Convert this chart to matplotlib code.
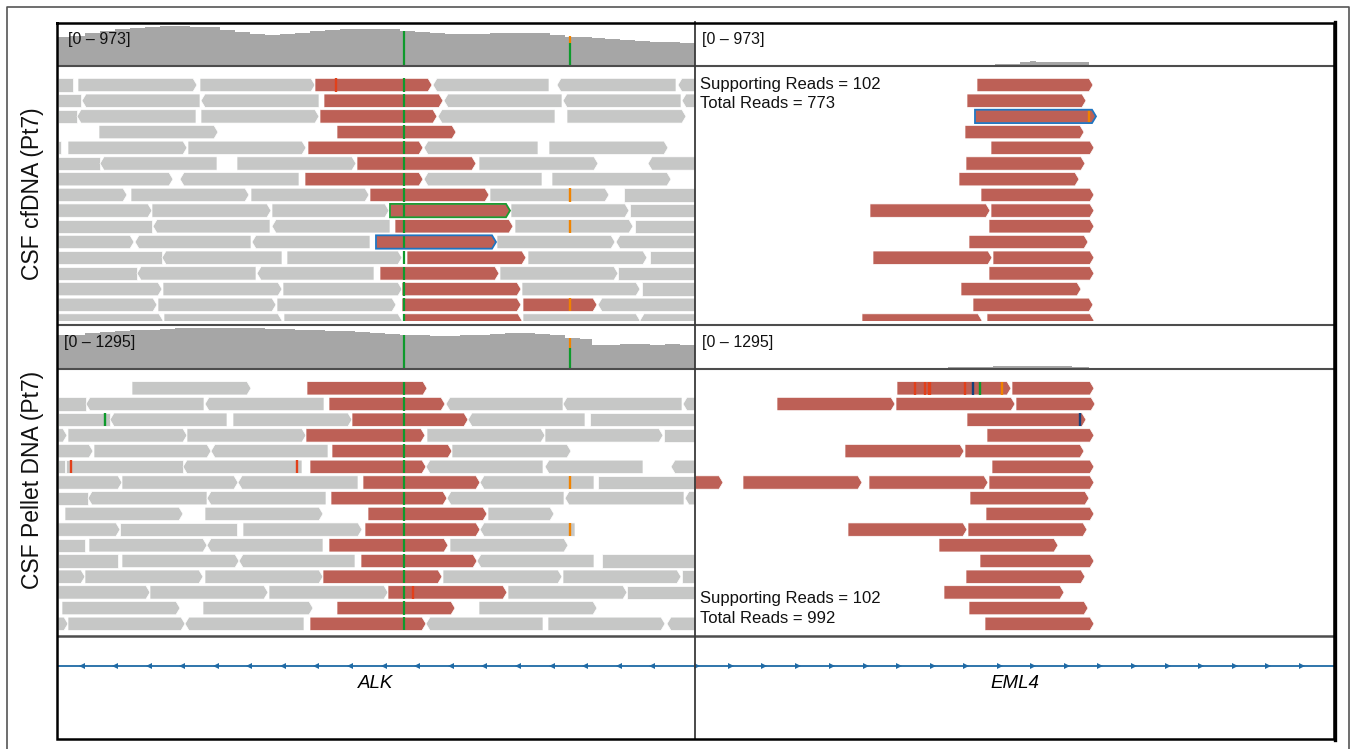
import matplotlib
matplotlib.use("Agg")
import matplotlib.pyplot as plt
from matplotlib.patches import Polygon
import numpy as np

# ---------------------------------------------------------------- data
# read tuples: (start, end, strand, kind)  kind: 'g' = normal read, 'r' = split (fusion-supporting) read
# positions are view coordinates (ALK window 57-695, EML4 window 695-1335)
alk_cfdna_reads = [
    [(58, 73, '|', 'g'), (78, 197, '>', 'g'), (200, 315, '>', 'g'), (315, 432, '>', 'r'), (433, 549, '<', 'g'), (557, 676, '<', 'g'), (678, 700, '<', 'g')],
    [(58, 81, '|', 'g'), (82, 200, '<', 'g'), (201, 319, '<', 'g'), (324, 443, '>', 'r'), (444, 562, '<', 'g'), (563, 681, '<', 'g'), (682, 700, '<', 'g')],
    [(58, 77, '|', 'g'), (77, 196, '<', 'g'), (201, 319, '>', 'g'), (320, 437, '>', 'r'), (438, 555, '<', 'g'), (567, 686, '>', 'g')],
    [(99, 218, '>', 'g'), (337, 456, '>', 'r')],
    [(58, 61, '|', 'g'), (68, 187, '>', 'g'), (188, 306, '>', 'g'), (308, 423, '>', 'r'), (424, 538, '<', 'g'), (549, 668, '>', 'g')],
    [(58, 100, '|', 'g'), (100, 217, '<', 'g'), (237, 356, '>', 'g'), (357, 476, '>', 'r'), (479, 598, '>', 'g'), (648, 700, '<', 'g')],
    [(58, 173, '>', 'g'), (180, 299, '<', 'g'), (305, 423, '>', 'r'), (424, 542, '<', 'g'), (552, 671, '>', 'g')],
    [(58, 127, '>', 'g'), (131, 249, '>', 'g'), (251, 369, '>', 'g'), (370, 489, '>', 'r'), (490, 609, '>', 'g'), (624, 700, '|', 'g')],
    [(58, 152, '>', 'g'), (152, 271, '>', 'g'), (272, 389, '>', 'g'), (390, 510, '>', 'r'), (511, 629, '>', 'g'), (630, 700, '|', 'g')],
    [(58, 152, '|', 'g'), (153, 270, '<', 'g'), (272, 390, '<', 'g'), (395, 513, '>', 'r'), (515, 633, '>', 'g'), (635, 700, '|', 'g')],
    [(58, 134, '>', 'g'), (135, 251, '<', 'g'), (252, 370, '<', 'g'), (376, 496, '>', 'r'), (497, 615, '>', 'g'), (616, 700, '<', 'g')],
    [(58, 162, '|', 'g'), (162, 282, '<', 'g'), (287, 402, '>', 'g'), (407, 526, '>', 'r'), (528, 647, '>', 'g'), (650, 700, '|', 'g')],
    [(58, 137, '|', 'g'), (137, 256, '<', 'g'), (257, 374, '<', 'g'), (380, 499, '>', 'r'), (500, 618, '>', 'g'), (618, 700, '|', 'g')],
    [(58, 162, '>', 'g'), (163, 282, '>', 'g'), (283, 402, '>', 'g'), (402, 521, '>', 'r'), (522, 640, '>', 'g'), (642, 700, '|', 'g')],
    [(58, 157, '>', 'g'), (158, 276, '>', 'g'), (277, 396, '>', 'g'), (402, 521, '>', 'r'), (523, 597, '>', 'r'), (598, 700, '<', 'g')],
    [(58, 163, '>', 'g'), (164, 282, '>', 'g'), (284, 402, '>', 'g'), (403, 522, '>', 'r'), (523, 640, '>', 'g'), (640, 700, '<', 'g')],
]
eml4_cfdna_reads = [
    [(977, 1093, '>', 'r')],
    [(967, 1086, '>', 'r')],
    [(975, 1096, '>', 'r')],
    [(965, 1084, '>', 'r')],
    [(991, 1094, '>', 'r')],
    [(966, 1085, '>', 'r')],
    [(959, 1079, '>', 'r')],
    [(981, 1094, '>', 'r')],
    [(870, 990, '>', 'r'), (991, 1094, '>', 'r')],
    [(989, 1094, '>', 'r')],
    [(969, 1088, '>', 'r')],
    [(873, 992, '>', 'r'), (993, 1094, '>', 'r')],
    [(989, 1094, '>', 'r')],
    [(961, 1081, '>', 'r')],
    [(973, 1093, '>', 'r')],
    [(862, 982, '>', 'r'), (987, 1094, '>', 'r')],
]
alk_pellet_reads = [
    [(132, 251, '>', 'g'), (307, 427, '>', 'r')],
    [(58, 86, '|', 'g'), (86, 204, '<', 'g'), (205, 324, '<', 'g'), (329, 445, '>', 'r'), (446, 563, '<', 'g'), (563, 682, '<', 'g'), (683, 700, '<', 'g')],
    [(58, 110, '|', 'g'), (110, 227, '<', 'g'), (233, 352, '>', 'g'), (352, 468, '>', 'r'), (468, 585, '<', 'g'), (590, 700, '|', 'g')],
    [(58, 67, '>', 'g'), (68, 187, '>', 'g'), (187, 306, '>', 'g'), (306, 425, '>', 'r'), (427, 545, '>', 'g'), (545, 663, '>', 'g'), (664, 700, '|', 'g')],
    [(58, 93, '>', 'g'), (94, 211, '>', 'g'), (211, 328, '<', 'g'), (332, 452, '>', 'r'), (452, 571, '>', 'g')],
    [(58, 65, '|', 'g'), (66, 183, '|', 'g'), (183, 302, '<', 'g'), (310, 426, '>', 'r'), (426, 543, '<', 'g'), (545, 643, '<', 'g'), (671, 700, '<', 'g')],
    [(58, 122, '>', 'g'), (122, 238, '>', 'g'), (238, 358, '<', 'g'), (363, 480, '>', 'r'), (480, 594, '<', 'g'), (598, 700, '|', 'g')],
    [(58, 88, '|', 'g'), (88, 207, '<', 'g'), (207, 326, '<', 'g'), (331, 447, '>', 'r'), (447, 564, '<', 'g'), (565, 684, '<', 'g'), (685, 700, '<', 'g')],
    [(65, 183, '>', 'g'), (205, 323, '>', 'g'), (368, 487, '>', 'r'), (488, 554, '>', 'g')],
    [(58, 120, '>', 'g'), (120, 237, '|', 'g'), (243, 362, '>', 'g'), (365, 480, '>', 'r'), (480, 575, '<', 'g')],
    [(58, 85, '|', 'g'), (89, 207, '>', 'g'), (207, 323, '<', 'g'), (329, 448, '>', 'r'), (450, 568, '>', 'g')],
    [(58, 118, '|', 'g'), (122, 239, '>', 'g'), (239, 355, '<', 'g'), (361, 477, '>', 'r'), (477, 594, '<', 'g'), (602, 700, '|', 'g')],
    [(58, 85, '>', 'g'), (85, 203, '>', 'g'), (205, 323, '>', 'g'), (323, 442, '>', 'r'), (443, 562, '>', 'g'), (563, 681, '>', 'g'), (682, 700, '|', 'g')],
    [(58, 150, '>', 'g'), (150, 268, '>', 'g'), (269, 388, '>', 'g'), (388, 507, '>', 'r'), (508, 627, '>', 'g'), (627, 700, '|', 'g')],
    [(62, 180, '>', 'g'), (203, 313, '>', 'g'), (337, 455, '>', 'r'), (479, 597, '>', 'g')],
    [(58, 68, '>', 'g'), (68, 185, '>', 'g'), (185, 304, '<', 'g'), (310, 426, '>', 'r'), (426, 543, '<', 'g'), (548, 665, '>', 'g'), (667, 700, '<', 'g')],
]
eml4_pellet_reads = [
    [(897, 1011, '>', 'r'), (1012, 1094, '>', 'r')],
    [(777, 895, '>', 'r'), (896, 1015, '>', 'r'), (1016, 1095, '>', 'r')],
    [(967, 1086, '>', 'r')],
    [(987, 1094, '>', 'r')],
    [(845, 964, '>', 'r'), (965, 1084, '>', 'r')],
    [(992, 1094, '>', 'r')],
    [(695, 723, '>', 'r'), (743, 862, '>', 'r'), (869, 988, '>', 'r'), (989, 1094, '>', 'r')],
    [(970, 1089, '>', 'r')],
    [(986, 1094, '>', 'r')],
    [(848, 967, '>', 'r'), (968, 1087, '>', 'r')],
    [(939, 1058, '>', 'r')],
    [(980, 1094, '>', 'r')],
    [(966, 1085, '>', 'r')],
    [(944, 1064, '>', 'r')],
    [(969, 1088, '>', 'r')],
    [(985, 1094, '>', 'r')],
]
# highlighted (selected) reads: (row, read index, outline base)
alk_cfdna_selected = [(8, 3, 'A'), (10, 3, 'C')]
eml4_cfdna_selected = [(2, 0, 'C')]

# mismatches: (row, position, base)
alk_cfdna_mm = [(0, 336, 'T'), (7, 570, 'G'), (9, 570, 'G'), (14, 570, 'G')]
eml4_cfdna_mm = [(2, 1089, 'G')]
alk_pellet_mm = [(2, 105, 'A'), (5, 71, 'T'), (5, 297, 'T'), (6, 570, 'G'), (9, 570, 'G'), (13, 413, 'T')]
eml4_pellet_mm = [(0, 915, 'T'), (0, 925, 'T'), (0, 929, 'T'), (0, 930, 'T'), (0, 965, 'T'),
                  (0, 973, 'C'), (0, 980, 'A'), (0, 1002, 'G'), (2, 1080, 'C')]
breakpoint_pos = 404   # ALK variant column (A) shown in every row

# coverage profiles
cov_alk_x = [57, 70, 85, 100, 115, 130, 145, 160, 175, 190, 205, 220, 235, 250, 265, 280, 295, 310, 325,
             340, 355, 370, 385, 400, 415, 430, 445, 460, 475, 490, 505, 520, 535, 550, 565, 580, 592,
             605, 620, 635, 650, 665, 680, 695]
cov_alk_cfdna = [641, 674, 730, 774, 818, 851, 873, 885, 885, 873, 862, 796, 752, 708, 686, 697, 730, 763, 796,
                 818, 829, 829, 818, 774, 741, 730, 708, 697, 708, 730, 736, 736, 719, 686, 652, 641, 615,
                 596, 575, 553, 537, 525, 514, 464]
cov_alk_pellet = [1001, 1015, 1045, 1089, 1118, 1148, 1162, 1177, 1192, 1207, 1207, 1207, 1192, 1192, 1177, 1177, 1162, 1148, 1133,
                  1118, 1089, 1059, 1030, 1001, 986, 971, 971, 986, 1001, 1030, 1045, 1045, 1030, 1001, 927, 883, 706,
                  714, 736, 736, 721, 736, 721, 706]
cov_eml4_x = [695, 897, 948, 957, 962, 993, 995, 1020, 1030, 1036, 1072, 1089, 1335]
cov_eml4_cfdna = [0, 0, 0, 0, 22, 22, 44, 88, 110, 88, 88, 0, 0]
cov_eml4_pellet = [0, 20, 59, 68, 68, 88, 88, 88, 95, 88, 50, 0, 0]
# coloured coverage columns: (position, depth, fraction of reference allele 'A' shown in green)
cov_marks_cfdna = [(404, 774, 1.0), (570, 663, 0.77)]
cov_marks_pellet = [(404, 1001, 1.0), (570, 927, 0.67)]
range_cfdna, range_pellet = 973, 1295

samples = ["CSF cfDNA (Pt7)", "CSF Pellet DNA (Pt7)"]
read_counts = [(102, 773), (102, 992)]
genes = ["ALK", "EML4"]
alk_strand_ticks = [82, 115, 149, 182, 216, 249, 283, 316, 350, 384, 417, 451, 484, 518, 552, 585, 619, 652]
eml4_strand_ticks = [697, 731, 764, 798, 832, 866, 899, 933, 966, 1000, 1033, 1067, 1100, 1134, 1168,
                     1201, 1235, 1268, 1302]

# ---------------------------------------------------------------- style
W, H = 1356, 749
GRAY_READ = "#c6c7c6"
RED_READ = "#bd6056"
COV = "#a6a6a6"
BASE = {"A": "#0e9a2c", "C": "#16407a", "G": "#f08300", "T": "#e2401a"}
OUTLINE = {"A": "#1a9a30", "C": "#1f74c0"}
ROW_H = 0.85
TIP = 4.0

fig = plt.figure(figsize=(W / 100, H / 100), dpi=100)
fig.patch.set_facecolor("white")


def px_axes(x0, y0, x1, y1):
    ax = fig.add_axes([x0 / W, 1 - y1 / H, (x1 - x0) / W, (y1 - y0) / H])
    ax.set_axis_off()
    ax.set_facecolor("none")
    return ax


def read_poly(s, e, strand, yc):
    h = ROW_H / 2
    if strand == '>':
        pts = [(s, yc - h), (e - TIP, yc - h), (e, yc), (e - TIP, yc + h), (s, yc + h)]
    elif strand == '<':
        pts = [(s + TIP, yc - h), (e, yc - h), (e, yc + h), (s + TIP, yc + h), (s, yc)]
    else:
        pts = [(s, yc - h), (e, yc - h), (e, yc + h), (s, yc + h)]
    return pts


def draw_reads(ax, rows, mm, selected, xlim, ylim, vline=None):
    ax.set_xlim(*xlim)
    ax.set_ylim(*ylim)
    sel = {(r, i): b for r, i, b in selected}
    for r, row in enumerate(rows):
        for i, (s, e, strand, kind) in enumerate(row):
            col = RED_READ if kind == 'r' else GRAY_READ
            pts = read_poly(s, e, strand, r)
            ax.add_patch(Polygon(pts, closed=True, facecolor=col, edgecolor="white", lw=0.5, zorder=2))
            if (r, i) in sel:
                ax.add_patch(Polygon(pts, closed=True, facecolor="none",
                                     edgecolor=OUTLINE[sel[(r, i)]], lw=1.3, zorder=4))
        if vline is not None:
            ax.vlines(vline, r - ROW_H / 2, r + ROW_H / 2, color=BASE["A"], lw=1.6, zorder=3)
    for r, x, b in mm:
        ax.vlines(x, r - ROW_H / 2, r + ROW_H / 2, color=BASE[b], lw=1.7, zorder=3)


def draw_cov(ax, xs, vals, vmax, xlim, marks=()):
    ax.set_xlim(*xlim)
    ax.set_ylim(0, vmax)
    ax.fill_between(xs, vals, step="post", color=COV, lw=0)
    for x, d, f in marks:
        ax.vlines(x, 0, d * f, color=BASE["A"], lw=1.6)
        if f < 1:
            ax.vlines(x, d * f, d, color=BASE["G"], lw=1.6)


# coverage tracks
draw_cov(px_axes(57, 22, 695, 66), cov_alk_x, cov_alk_cfdna, range_cfdna, (57, 695), cov_marks_cfdna)
draw_cov(px_axes(695, 22, 1335, 66), cov_eml4_x, cov_eml4_cfdna, range_cfdna, (695, 1335))
draw_cov(px_axes(57, 325, 695, 369), cov_alk_x, cov_alk_pellet, range_pellet, (57, 695), cov_marks_pellet)
draw_cov(px_axes(695, 325, 1335, 369), cov_eml4_x, cov_eml4_pellet, range_pellet, (695, 1335))

# read tracks (row i centred at 85 + 15.7 i px / 388.3 + 15.7 i px)
top_ylim = ((321 - 85) / 15.7, (66 - 85) / 15.7)
bot_ylim = ((636 - 388.3) / 15.7, (369 - 388.3) / 15.7)
draw_reads(px_axes(57, 66, 695, 321), alk_cfdna_reads, alk_cfdna_mm, alk_cfdna_selected,
           (57, 695), top_ylim, breakpoint_pos)
draw_reads(px_axes(695, 66, 1335, 321), eml4_cfdna_reads, eml4_cfdna_mm, eml4_cfdna_selected,
           (695, 1335), top_ylim)
draw_reads(px_axes(57, 369, 695, 636), alk_pellet_reads, alk_pellet_mm, [],
           (57, 695), bot_ylim, breakpoint_pos)
draw_reads(px_axes(695, 369, 1335, 636), eml4_pellet_reads, eml4_pellet_mm, [],
           (695, 1335), bot_ylim)

# gene track
gax = px_axes(57, 636, 1335, 739)
gax.set_xlim(57, 1335)
gax.set_ylim(739, 636)
GENE_BLUE = "#1f6aa5"
gax.plot([57, 1335], [666, 666], color=GENE_BLUE, lw=1.3)
gax.plot(alk_strand_ticks, [666] * len(alk_strand_ticks), ls="none", marker="<", ms=4.5,
         color=GENE_BLUE, mew=0)
gax.plot(eml4_strand_ticks, [666] * len(eml4_strand_ticks), ls="none", marker=">", ms=4.5,
         color=GENE_BLUE, mew=0)
gax.text(376, 684, genes[0], ha="center", va="center", fontsize=13.5, style="italic",
         family="Liberation Sans")
gax.text(1015, 684, genes[1], ha="center", va="center", fontsize=13.5, style="italic",
         family="Liberation Sans")

# overlay: frames, dividers, labels
ov = px_axes(0, 0, W, H)
ov.set_xlim(0, W)
ov.set_ylim(H, 0)
ov.plot([6.5, 6.5, 1349, 1349], [760, 6.5, 6.5, 760], color="#555555", lw=1.2)
LINE = "#4d4d4d"
for y, lw in [(66, 1.5), (325, 1.5), (369, 1.5), (636, 1.8)]:
    ov.plot([57, 1335], [y, y], color=LINE, lw=lw, solid_capstyle="butt")
ov.plot([695, 695], [22, 739], color="#3a3a3a", lw=1.3)
ov.plot([57, 1334, 1334, 57, 57], [22.5, 22.5, 738.5, 738.5, 22.5], color="black", lw=1.8,
        solid_joinstyle="miter")
ov.plot([1334.5, 1334.5], [22, 740], color="black", lw=2.4)

txt_kw = dict(fontsize=11.5, family="Liberation Sans", color="#111111", va="baseline")
ov.text(68, 44.3, f"[0 \u2013 {range_cfdna}]", **txt_kw)
ov.text(702, 44.3, f"[0 \u2013 {range_cfdna}]", **txt_kw)
ov.text(64, 346.7, f"[0 \u2013 {range_pellet}]", **txt_kw)
ov.text(702, 346.7, f"[0 \u2013 {range_pellet}]", **txt_kw)

sup_kw = dict(fontsize=12, family="Liberation Sans", color="#111111", va="baseline")
ov.text(700, 89, f"Supporting Reads = {read_counts[0][0]}", **sup_kw)
ov.text(700, 108, f"Total Reads = {read_counts[0][1]}", **sup_kw)
ov.text(700, 603.5, f"Supporting Reads = {read_counts[1][0]}", **sup_kw)
ov.text(700, 623, f"Total Reads = {read_counts[1][1]}", **sup_kw)

lab_kw = dict(fontsize=16.5, family="Liberation Sans", rotation=90,
              ha="center", va="center", color="#111111")
ov.text(33, 194, samples[0], **lab_kw)
ov.text(33, 480, samples[1], **lab_kw)

fig.savefig("out.png", dpi=100, facecolor="white")
